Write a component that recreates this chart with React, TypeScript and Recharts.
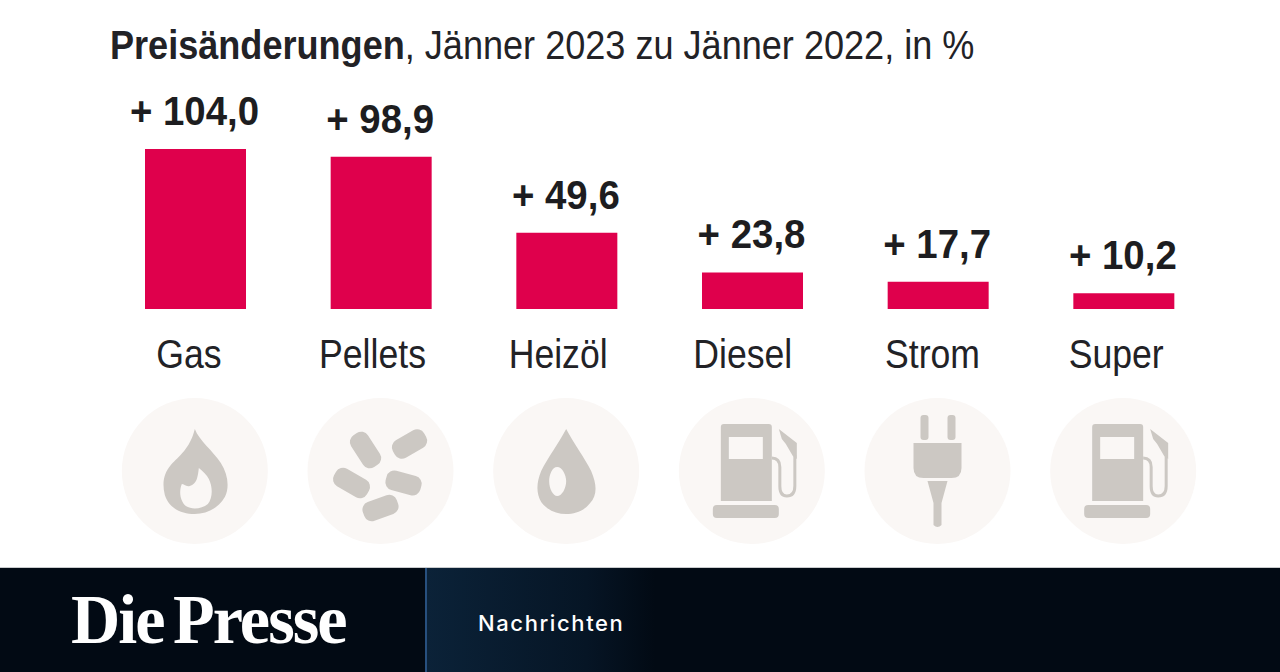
import { BarChart, Bar, XAxis, YAxis, LabelList } from 'recharts'

const categories = ['Gas', 'Pellets', 'Heizöl', 'Diesel', 'Strom', 'Super']
const changes = [104.0, 98.9, 49.6, 23.8, 17.7, 10.2]
const icons = ['flame', 'pellets', 'drop', 'pump', 'plug', 'pump']

const data = categories.map((name, i) => ({ name, change: changes[i], icon: icons[i] }))

const FONT = '"Liberation Sans", sans-serif'
const ICON = '#ccc8c3'
const DISC = '#faf7f5'
const labelShift = [-7, -9, -9, -10, -6, -8]

function fmt(v: number) {
  return '+ ' + v.toFixed(1).replace('.', ',')
}

function Pellet({ x, y, len, rot }: { x: number; y: number; len: number; rot: number }) {
  return <rect x={x - len / 2} y={y - 10} width={len} height={20} rx={8} fill={ICON} transform={`rotate(${rot} ${x} ${y})`} />
}

function Icon({ type }: { type: string }) {
  if (type === 'flame') {
    return (
      <path
        fill={ICON}
        fillRule="evenodd"
        d="M0,-42 C4,-31 18,-20 26,-8 C33,3 35,16 30,26 C24,37 12,43 0,43 C-14,43 -26,37 -30,24 C-33,12 -31,2 -24,-6 C-16,-15 -5,-22 0,-42 Z M4,-3 C3,6 2,13 -5,15 C-9,16 -11,13 -13,13 C-16,20 -15,30 -9,35 C-3,39 7,38 13,33 C18,27 18,16 14,8 C12,4 8,0 4,-3 Z"
      />
    )
  }
  if (type === 'pellets') {
    return (
      <g>
        <Pellet x={-15} y={-21} len={38} rot={57} />
        <Pellet x={29} y={-27} len={36} rot={-30} />
        <Pellet x={-29} y={12} len={38} rot={30} />
        <Pellet x={23} y={12} len={36} rot={15} />
        <Pellet x={0} y={37} len={36} rot={-20} />
      </g>
    )
  }
  if (type === 'drop') {
    return (
      <path
        fill={ICON}
        fillRule="evenodd"
        d="M0,-42 C8,-27 18,-14 25,0 C31,14 31,24 24,32 C18,40 9,43 0,43 C-10,43 -19,39 -25,31 C-30,22 -30,12 -25,0 C-18,-14 -8,-27 0,-42 Z M-9,-4 C-14,-4 -17,4 -17,10 C-17,18 -13,25 -9,25 C-4,25 0,17 0,10 C0,4 -4,-4 -9,-4 Z"
      />
    )
  }
  if (type === 'plug') {
    return (
      <g fill={ICON}>
        <rect x={-17} y={-56} width={8} height={25} rx={3} />
        <rect x={10} y={-56} width={8} height={25} rx={3} />
        <path d="M-24,-28 H24 V-3 Q24,7 14,7 H-14 Q-24,7 -24,-3 Z" />
        <path d="M-10,10 H10 L4,32 V54 Q0,58 -4,54 V32 Z" />
      </g>
    )
  }
  return (
    <g>
      <path fill={ICON} d="M-31,-44 Q-31,-47 -28,-47 H17 Q20,-47 20,-44 V30 H-31 Z" />
      <rect x={-23} y={-34} width={34} height={22} fill={DISC} />
      <rect x={-39} y={34} width={66} height={13} rx={4} fill={ICON} />
      <path fill="none" stroke={ICON} strokeWidth={3} d="M20,-13 Q28,-13 28,-4 V15 Q28,25 35,25 Q43,25 43,15 V-16" />
      <path fill={ICON} d="M27,-42 L45,-28 V-12 L41,-15 L34,-27 L30,-32 Z" />
    </g>
  )
}

function CategoryTick(props: any) {
  const { x, y, payload, index } = props
  return (
    <g>
      <text
        transform={`translate(${x + labelShift[index]}, ${y + 53}) scale(0.89, 1)`}
        textAnchor="middle"
        fontFamily={FONT}
        fontSize={40}
        fill="#222226"
      >
        {payload.value}
      </text>
      <g transform={`translate(${x - 1}, ${y + 156})`}>
        <circle r={73} fill={DISC} />
        <Icon type={data[index].icon} />
      </g>
    </g>
  )
}

function ValueLabel(props: any) {
  const { x, y, width, value } = props
  return (
    <text
      transform={`translate(${x + width / 2 - 1}, ${y - 24}) scale(0.96, 1)`}
      textAnchor="middle"
      fontFamily={FONT}
      fontWeight={700}
      fontSize={40}
      fill="#1d1d20"
    >
      {fmt(value)}
    </text>
  )
}

export default function App() {
  return (
    <div style={{ position: 'absolute', left: 0, top: 0, width: 1280, height: 672, background: '#fff', overflow: 'hidden' }}>
      <div
        style={{
          position: 'absolute',
          left: 110,
          top: 22,
          fontFamily: FONT,
          fontSize: 40,
          lineHeight: '46px',
          color: '#222226',
          whiteSpace: 'nowrap',
          transform: 'scaleX(0.902)',
          transformOrigin: 'left',
        }}
      >
        <b>Preisänderungen</b>, Jänner 2023 zu Jänner 2022, in %
      </div>

      <BarChart
        width={1280}
        height={672}
        data={data}
        margin={{ top: 149, right: 63, bottom: 63, left: 103 }}
      >
        <XAxis
          dataKey="name"
          height={300}
          axisLine={false}
          tickLine={false}
          interval={0}
          tickMargin={0}
          tick={CategoryTick}
        />
        <YAxis hide domain={[0, 104]} />
        <Bar dataKey="change" fill="#df004c" barSize={101} isAnimationActive={false}>
          <LabelList dataKey="change" content={ValueLabel} />
        </Bar>
      </BarChart>

      <div style={{ position: 'absolute', left: 0, top: 567, width: 1280, height: 105, background: '#020a14', borderTop: '1px solid #c9cbcd', boxSizing: 'border-box' }}>
        <div
          style={{
            position: 'absolute',
            left: 425,
            top: 0,
            width: 230,
            height: 104,
            background: 'linear-gradient(90deg, #0b2238, #061525 70%, #020a14)',
            borderLeft: '2px solid #27507f',
            boxSizing: 'border-box',
          }}
        />
        <div
          style={{
            position: 'absolute',
            left: 71,
            top: 14,
            fontFamily: '"Liberation Serif", serif',
            fontWeight: 700,
            fontSize: 70,
            lineHeight: '76px',
            letterSpacing: -2,
            wordSpacing: -6,
            color: '#fff',
            whiteSpace: 'nowrap',
            transform: 'scaleX(0.975)',
            transformOrigin: 'left',
          }}
        >
          Die Presse
        </div>
        <div
          style={{
            position: 'absolute',
            left: 478,
            top: 41,
            fontFamily: 'Inter, sans-serif',
            fontWeight: 500,
            fontSize: 22,
            lineHeight: '28px',
            letterSpacing: 1.6,
            color: '#fff',
            whiteSpace: 'nowrap',
          }}
        >
          Nachrichten
        </div>
      </div>
    </div>
  )
}
